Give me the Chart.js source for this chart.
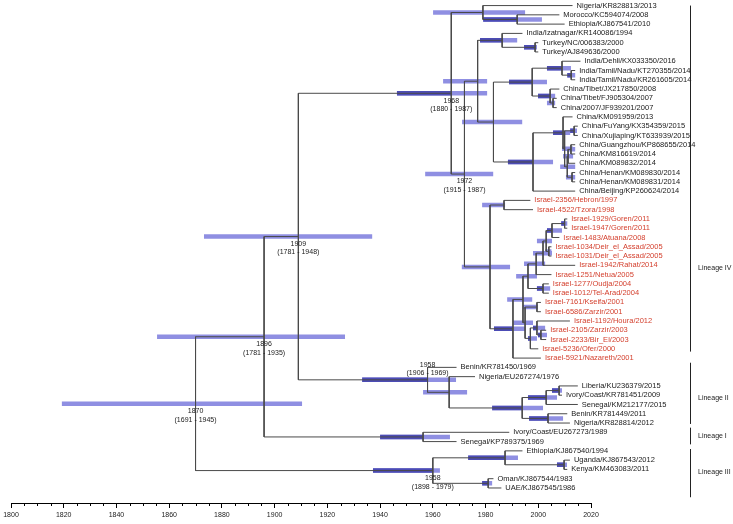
<!DOCTYPE html>
<html><head><meta charset="utf-8">
<script src="https://cdn.jsdelivr.net/npm/chart.js@4.4.1/dist/chart.umd.min.js"></script>
<style>html,body{margin:0;padding:0;background:#fff}#wrap{width:733px;height:524px;position:relative}</style>
</head><body><div id="wrap"><canvas id="c" width="733" height="524"></canvas></div>
<script>
// ---------- DATA ----------
const tipNames = [
 "Nigeria/KR828813/2013","Morocco/KC594074/2008","Ethiopia/KJ867541/2010","India/Izatnagar/KR140086/1994",
 "Turkey/NC/006383/2000","Turkey/AJ849636/2000","India/Dehli/KX033350/2016","India/Tamil/Nadu/KT270355/2014",
 "India/Tamil/Nadu/KR261605/2014","China/Tibet/JX217850/2008","China/Tibet/FJ905304/2007","China/2007/JF939201/2007",
 "China/KM091959/2013","China/FuYang/KX354359/2015","China/Xujiaping/KT633939/2015","China/Guangzhou/KP868655/2014",
 "China/KM816619/2014","China/KM089832/2014","China/Henan/KM089830/2014","China/Henan/KM089831/2014",
 "China/Beijing/KP260624/2014","Israel-2356/Hebron/1997","Israel-4522/Tzora/1998","Israel-1929/Goren/2011",
 "Israel-1947/Goren/2011","Israel-1483/Atuana/2008","Israel-1034/Deir_el_Assad/2005","Israel-1031/Deir_el_Assad/2005",
 "Israel-1942/Rahat/2014","Israel-1251/Netua/2005","Israel-1277/Oudja/2004","Israel-1012/Tel-Arad/2004",
 "Israel-7161/Kseifa/2001","Israel-6586/Zarzir/2001","Israel-1192/Houra/2012","Israel-2105/Zarzir/2003",
 "Israel-2233/Bir_El/2003","Israel-5236/Ofer/2000","Israel-5921/Nazareth/2001","Benin/KR781450/1969",
 "Nigeria/EU267274/1976","Liberia/KU236379/2015","Ivory/Coast/KR781451/2009","Senegal/KM212177/2015",
 "Benin/KR781449/2011","Nigeria/KR828814/2012","Ivory/Coast/EU267273/1989","Senegal/KP789375/1969",
 "Ethiopia/KJ867540/1994","Uganda/KJ867543/2012","Kenya/KM463083/2011","Oman/KJ867544/1983","UAE/KJ867545/1986"
];
const tipYears = [2013,2008,2010,1994,2000,2000,2016,2014,2014,2008,2007,2007,2013,2015,2015,2014,2014,2014,2014,2014,2014,
 1997,1998,2011,2011,2008,2005,2005,2014,2005,2004,2004,2001,2001,2012,2003,2003,2000,2001,
 1969,1976,2015,2009,2015,2011,2012,1989,1969,1994,2012,2011,1983,1986];

const nodeNames = ["root","n1896","n1909","L4","A","A2","B","B1","T","TU","C","IC","ID","IK","CT","CF","CM","Cm1","X","FY","Y","G3","G2","H2",
 "IS","HT","IR","IR2","If","Ie","Id","Ic","Ia","Gp","Ib","P30","Ij","Ig","Ii","Ih","P35",
 "L2","L2a","L2b","L2c","L2e","L2d","L1","L3","L3a","UK","L3b"];
const nodeYears = [1870,1896,1909,1967,1979,1992,1972,1977,1986.3,1998.8,1983,1997.7,2009,2012.5,2004.5,2005.6,1998,2009.4,2010,2013.6,2011,2011.3,2012.4,2012.8,
 1981.7,1987,1990.4,1994.2,1996.1,1999.2,2001.8,2003,2005.2,2010,2004,2001.8,1995,1999.5,1997,1999.5,2001,
 1958,1966.2,1993.9,2003,2007.9,2003.7,1956.3,1960,1987.4,2009.8,1981];
const nodeChildren = [["n1896","L3"],["n1909","L1"],["L4","L2"],["A","B"],[0,"A2"],[1,2],["B1","IS"],["T","C"],[3,"TU"],[4,5],
 ["IC","CM"],["ID","CT"],[6,"IK"],[7,8],[9,"CF"],[10,11],["Cm1",20],[12,"X"],["FY","Y"],[13,14],["G3","H2"],["G2",17],[15,16],[18,19],
 ["HT","IR"],[21,22],["IR2",38],["If","Ij"],["Ie","P30"],["Id",29],["Ic",28],["Ia","Ib"],["Gp",25],[23,24],[26,27],[30,31],
 ["Ig","Ii"],[32,33],["Ih",37],[34,"P35"],[35,36],
 [39,"L2a"],[40,"L2b"],["L2c","L2d"],["L2e",43],[41,42],[44,45],[46,47],["L3a","L3b"],[48,"UK"],[49,50],[51,52]];
const barLow = [1819.3,1855.4,1873.2,1946.4,1960.1,1979.1,1957.1,1963.9,1977.9,1994.6,1971.1,1988.9,2003.3,2011,1999.9,2003.3,1988.5,2005.6,2009,2012.1,2008.3,2009.4,2010.9,2010.5,
 1971.0,1978.7,1983.2,1988.2,1991.6,1994.6,1998,1999.5,2003.3,2008.7,2002.6,1999.5,1990.4,1994.2,1996.1,1998,1999.9,
 1933.2,1956.3,1982.5,1996.1,2005.2,1996.5,1940,1937.3,1973.4,2007.1,1978.7];
const barHigh = [1910.4,1926.7,1937,1980.6,1995,2001.4,1982.9,1980.6,1992,1999.5,1993.9,2003.3,2012.4,2014,2006.4,2006.4,2005.6,2012.1,2013.2,2014.7,2014,2013.2,2014,2014,
 1989.3,1987.4,1995,1997.7,1999.5,2002.6,2005.2,2005.2,2009,2011,2005,2004.5,1998,1999.9,1999.5,2002.6,2003.3,
 1968.8,1973,2001.8,2007.1,2009,2009.4,1966.5,1962.7,1992.3,2010.9,1982.5];

const annotNodes  = ["root","n1896","n1909","L2","L4","B","L3"];
const annotMedian = ["1870","1896","1909","1958","1968","1972","1958"];
const annotRange  = ["(1691 - 1945)","(1781 - 1935)","(1781 - 1948)","(1906 - 1969)","(1880 - 1987)","(1915 - 1987)","(1898 - 1979)"];
const annotAbove  = ["L2"];

const lineageNames    = ["Lineage IV","Lineage II","Lineage I","Lineage III"];
const lineageStartRow = [0, 38.5, 45.5, 47.8];
const lineageEndRow   = [37.3, 45.1, 47.3, 53.0];
const lineageLabelRow = [28.3, 42.3, 46.4, 50.3];

const xTickMin = 1800, xTickMax = 2020, majorStep = 20, minorStep = 5;

// ---------- BUILD ----------
const idx = {}; nodeNames.forEach((n,i)=>idx[n]=i);
const nodeRow = [];
function rowOf(c){
  if (typeof c === 'number') return c;
  const i = idx[c];
  if (nodeRow[i] === undefined){ const ch = nodeChildren[i]; nodeRow[i] = (rowOf(ch[0]) + rowOf(ch[ch.length-1]))/2; }
  return nodeRow[i];
}
function yearOf(c){ return typeof c === 'number' ? tipYears[c] : nodeYears[idx[c]]; }
nodeNames.forEach(n=>rowOf(n));
const parentYear = nodeNames.map(()=>null);
nodeChildren.forEach((ch,i)=>ch.forEach(c=>{ if (typeof c === 'string') parentYear[idx[c]] = nodeYears[i]; }));

const branchPts = [], lightPts = [], darkPts = [];
function seg(arr,x1,y1,x2,y2){ arr.push({x:x1,y:y1},{x:x2,y:y2},{x:null,y:null}); }
nodeChildren.forEach((ch,i)=>{
  const x = nodeYears[i];
  seg(branchPts, x, rowOf(ch[0]), x, rowOf(ch[ch.length-1]));
  ch.forEach(c=>seg(branchPts, x, rowOf(c), yearOf(c), rowOf(c)));
  const r = nodeRow[i];
  seg(lightPts, barLow[i], r, barHigh[i], r);
  const p = parentYear[i];
  if (p !== null && barLow[i] >= p - 0.3 && nodeYears[i] > barLow[i]){
    seg(darkPts, barLow[i], r, nodeYears[i], r);
  }
});

Chart.defaults.font.family = '"Liberation Sans", Arial, sans-serif';

const textPlugin = {
  id:'treeText',
  afterDraw(chart){
    const ctx = chart.ctx, xs = chart.scales.x, ys = chart.scales.y;
    ctx.save();
    ctx.strokeStyle = '#000'; ctx.lineWidth = 1;
    const yb = Math.round(chart.chartArea.bottom);
    for (let v = xTickMin; v <= xTickMax; v += minorStep){
      if (v % majorStep === 0) continue;
      const px = Math.round(xs.getPixelForValue(v)) + 0.5;
      ctx.beginPath(); ctx.moveTo(px, yb); ctx.lineTo(px, yb+3); ctx.stroke();
    }
    ctx.font = '7.5px "Liberation Sans", Arial, sans-serif';
    ctx.textBaseline = 'middle'; ctx.textAlign = 'left';
    tipNames.forEach((t,i)=>{
      ctx.fillStyle = t.startsWith('Israel') ? '#d4412f' : '#1a1a1a';
      ctx.fillText(t, xs.getPixelForValue(tipYears[i]) + 4, ys.getPixelForValue(i));
    });
    ctx.font = '7px "Liberation Sans", Arial, sans-serif';
    ctx.textAlign = 'center'; ctx.fillStyle = '#1a1a1a';
    annotNodes.forEach((n,k)=>{
      const i = idx[n];
      const px = xs.getPixelForValue(nodeYears[i]), py = ys.getPixelForValue(nodeRow[i]);
      const above = annotAbove.includes(n);
      ctx.fillText(annotMedian[k], px, above ? py-15 : py+7.5);
      ctx.fillText(annotRange[k], px, above ? py-6.5 : py+16);
    });
    ctx.strokeStyle = '#222'; ctx.font = '7px "Liberation Sans", Arial, sans-serif';
    ctx.textAlign = 'left';
    lineageNames.forEach((ln,k)=>{
      const y1 = ys.getPixelForValue(lineageStartRow[k]), y2 = ys.getPixelForValue(lineageEndRow[k]);
      ctx.beginPath(); ctx.moveTo(690.5, y1); ctx.lineTo(690.5, y2); ctx.stroke();
      ctx.fillText(ln, 698, ys.getPixelForValue(lineageLabelRow[k]));
    });
    ctx.restore();
  }
};

new Chart(document.getElementById('c'), {
  type:'scatter',
  data:{ datasets:[
    {label:'branches', data:branchPts, showLine:true, spanGaps:false, borderColor:'#4a4a4a', borderWidth:1, pointRadius:0, borderCapStyle:'butt'},
    {label:'hpdOverlap', data:darkPts, showLine:true, spanGaps:false, borderColor:'rgba(72,72,178,0.92)', borderWidth:4.5, pointRadius:0, borderCapStyle:'butt'},
    {label:'hpd', data:lightPts, showLine:true, spanGaps:false, borderColor:'rgba(118,118,220,0.82)', borderWidth:4.5, pointRadius:0, borderCapStyle:'butt'}
  ]},
  options:{
    responsive:false, animation:false, devicePixelRatio:1,
    layout:{padding:{left:11,right:142,top:0,bottom:0}},
    plugins:{legend:{display:false}, tooltip:{enabled:false}},
    scales:{
      x:{type:'linear', min:xTickMin, max:xTickMax, position:'bottom',
         ticks:{stepSize:majorStep, font:{size:7}, color:'#222', padding:3, maxRotation:0, autoSkip:false,
                callback:(v)=>String(v)},
         grid:{drawOnChartArea:false, drawTicks:true, tickLength:5, color:'#000'},
         border:{display:true, color:'#000', width:1},
         afterFit:(s)=>{ s.height = 21; }},
      y:{type:'linear', reverse:true, min:-0.6, max:53.62, display:false}
    }
  },
  plugins:[textPlugin]
});
</script></body></html>
